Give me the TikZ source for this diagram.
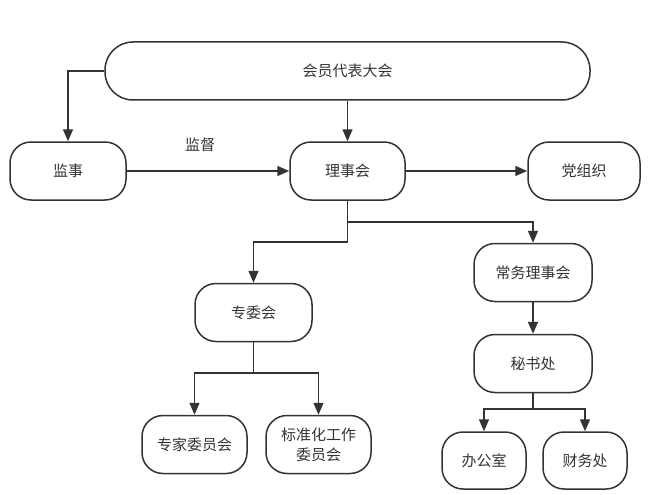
\documentclass[tikz,border=0pt]{standalone}
\usepackage{fontspec}
\setmainfont{Noto Sans CJK SC}
\usetikzlibrary{arrows.meta}
\definecolor{inkgray}{HTML}{333333}

\begin{document}
\begin{tikzpicture}[x=1pt,y=-1pt,
  box/.style={draw=inkgray, line width=1.5pt, rounded corners=21pt, inner sep=0pt,
    minimum height=58pt, text=inkgray, align=center, font=\fontsize{15pt}{20pt}\selectfont},
  link/.style={draw=inkgray, line width=1.5pt, -{Triangle[length=12pt,width=10pt]}}]
  \useasboundingbox (0,0) rectangle (651,495);
  \node[box, minimum width=485pt, rounded corners=28pt] (dahui) at (347.5,71) {会员代表大会};
  \node[box, minimum width=116pt] (jianshi) at (68,171) {监事};
  \node[box, minimum width=115pt] (lishi) at (347.5,171) {理事会};
  \node[box, minimum width=112pt] (dang) at (584,171) {党组织};
  \node[text=inkgray, font=\fontsize{15pt}{20pt}\selectfont] (jiandu) at (200,145) {监督};
  \node[box, minimum width=117pt] (zhuanwei) at (253.5,312.5) {专委会};
  \node[box, minimum width=118pt] (changwu) at (533,272.5) {常务理事会};
  \node[box, minimum width=118pt] (mishu) at (533,363.5) {秘书处};
  \node[box, minimum width=105pt] (zhuanjia) at (194.5,444.5) {专家委员会};
  \node[box, minimum width=105pt] (biaozhun) at (318.5,444.5) {标准化工作\\委员会};
  \node[box, minimum width=84pt, minimum height=57pt] (bangong) at (484,460.5) {办公室};
  \node[box, minimum width=84pt, minimum height=57pt] (caiwu) at (585,460.5) {财务处};
  \coordinate (split1) at (347.5,222);
  \coordinate (split2) at (347.5,242);
  \coordinate (split3) at (253.5,373);
  \coordinate (split4) at (533,409);
  \draw[link] (dahui.west) -| (jianshi.north);
  \draw[link] (dahui.south -| lishi.north) -- (lishi.north);
  \draw[link] (jianshi.east) -- (lishi.west);
  \draw[link] (lishi.east) -- (dang.west);
  \draw[link] (lishi.south) -- (split1) -| (changwu.north);
  \draw[link] (split1) -- (split2) -| (zhuanwei.north);
  \draw[link] (zhuanwei.south) -- (split3) -| (zhuanjia.north);
  \draw[link] (split3) -| (biaozhun.north);
  \draw[link] (changwu.south) -- (mishu.north);
  \draw[link] (mishu.south) -- (split4) -| (bangong.north);
  \draw[link] (split4) -| (caiwu.north);
\end{tikzpicture}
\end{document}
